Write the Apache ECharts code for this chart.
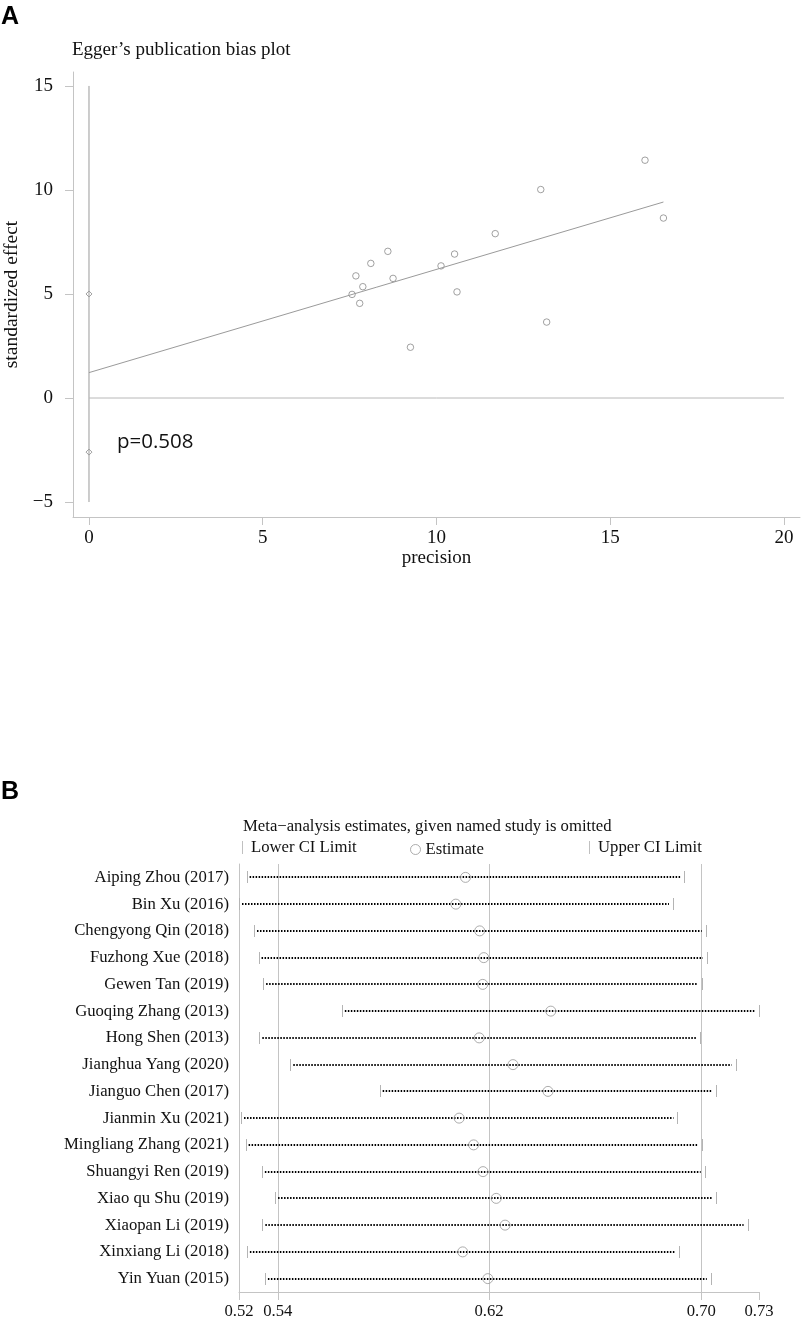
<!DOCTYPE html>
<html>
<head>
<meta charset="utf-8">
<script src="https://cdn.jsdelivr.net/npm/echarts@6/dist/echarts.min.js"></script>
<style>
  html, body { margin: 0; padding: 0; background: #fff; }
  #main { width: 803px; height: 1317px; }
</style>
</head>
<body>
<div id="main"></div>
<script>
// ---------- panel A : Egger's plot ----------
var precision = [16.0, 13.0, 16.53, 11.69, 8.60, 10.52, 8.11, 10.13, 7.68, 8.75, 7.88, 7.57, 10.59, 7.79, 13.17, 9.25];
var stdEffect = [11.43, 10.02, 8.65, 7.90, 7.05, 6.92, 6.47, 6.35, 5.87, 5.75, 5.35, 4.98, 5.10, 4.55, 3.65, 2.44];
var fitX = [0, 16.53];
var fitY = [1.22, 9.42];
var interceptCI = [5.0, -2.6];
var eggerXTicks = [0, 5, 10, 15, 20];
var eggerYTicks = [-5, 0, 5, 10, 15];
var pText = 'p=0.508';

// ---------- panel B : leave-one-out ----------
var studies = ['Aiping Zhou (2017)', 'Bin Xu (2016)', 'Chengyong Qin (2018)', 'Fuzhong Xue (2018)',
    'Gewen Tan (2019)', 'Guoqing Zhang (2013)', 'Hong Shen (2013)', 'Jianghua Yang (2020)',
    'Jianguo Chen (2017)', 'Jianmin Xu (2021)', 'Mingliang Zhang (2021)', 'Shuangyi Ren (2019)',
    'Xiao qu Shu (2019)', 'Xiaopan Li (2019)', 'Xinxiang Li (2018)', 'Yin Yuan (2015)'];
var lowerCI = [0.5248, 0.5218, 0.5277, 0.5295, 0.5313, 0.5623, 0.5298, 0.5420,
    0.5772, 0.5226, 0.5244, 0.5308, 0.5360, 0.5310, 0.5249, 0.5320];
var estimate = [0.6110, 0.6072, 0.6166, 0.6182, 0.6178, 0.6446, 0.6164, 0.6297,
    0.6435, 0.6085, 0.6142, 0.6179, 0.6231, 0.6266, 0.6099, 0.6198];
var upperCI = [0.6971, 0.6927, 0.7056, 0.7061, 0.7042, 0.7266, 0.7035, 0.7174,
    0.7098, 0.6945, 0.7040, 0.7052, 0.7098, 0.7221, 0.6949, 0.7076];
var overallCI = [0.5371, 0.6203, 0.7039];   // lower, estimate, upper of full model
var looTicks = [0.5218, 0.5371, 0.6203, 0.7039, 0.7266];
var looTickLabels = ['0.52', '0.54', '0.62', '0.70', '0.73'];

var serif = "'Liberation Serif', 'Times New Roman', serif";
var sansBold = "'Liberation Sans', Arial, sans-serif";
var axisGray = '#c4c4c4';
var lineGray = '#9a9a9a';

var chart = echarts.init(document.getElementById('main'), null, { renderer: 'canvas' });

function pairs(xs, ys) {
    return xs.map(function (x, i) { return [x, ys[i]]; });
}

// small grey bar at a CI end
function endTick(field) {
    return function (params, api) {
        var p = api.coord([api.value(field), api.value(2)]);
        var y = Math.round(p[1]);
        return {
            type: 'line',
            shape: { x1: Math.round(p[0]) + 0.5, y1: y - 6, x2: Math.round(p[0]) + 0.5, y2: y + 6 },
            style: { stroke: '#b4b4b4', lineWidth: 1 }
        };
    };
}

var ciData = studies.map(function (s, i) { return [lowerCI[i], upperCI[i], i]; });

var option = {
    animation: false,
    backgroundColor: '#fff',
    title: [
        { text: 'A', left: 1, top: 5, padding: 0, textStyle: { fontFamily: sansBold, fontWeight: 'bold', fontSize: 25, color: '#000' } },
        { text: 'Egger\u2019s publication bias plot', left: 72, top: 41, padding: 0, textStyle: { fontFamily: serif, fontWeight: 'normal', fontSize: 19, color: '#111' } },
        { text: pText, left: 117, top: 432, padding: 0, textStyle: { fontFamily: "'Open Sans', sans-serif", fontWeight: 'normal', fontSize: 20.5, color: '#111' } },
        { text: 'B', left: 1, top: 780, padding: 0, textStyle: { fontFamily: sansBold, fontWeight: 'bold', fontSize: 25, color: '#000' } },
        { text: 'Meta\u2212analysis estimates, given named study is omitted', left: 243, top: 818, padding: 0, textStyle: { fontFamily: serif, fontWeight: 'normal', fontSize: 16.7, color: '#111' } }
    ],
    legend: [
        {
            left: 242, top: 839, padding: 0, itemWidth: 1, itemHeight: 13,
            data: [{ name: 'Lower CI Limit', icon: 'rect', itemStyle: { color: '#c0c0c0' } }],
            textStyle: { fontFamily: serif, fontSize: 16.7, color: '#111', padding: [0, 0, 0, 3] }
        },
        {
            left: 410, top: 841, padding: 0, itemWidth: 10, itemHeight: 10,
            data: [{ name: 'Estimate', icon: 'circle', itemStyle: { color: 'transparent', borderColor: '#999', borderWidth: 1 } }],
            textStyle: { fontFamily: serif, fontSize: 16.7, color: '#111', padding: [0, 0, 0, 0] }
        },
        {
            left: 589, top: 839, padding: 0, itemWidth: 1, itemHeight: 13,
            data: [{ name: 'Upper CI Limit', icon: 'rect', itemStyle: { color: '#c0c0c0' } }],
            textStyle: { fontFamily: serif, fontSize: 16.7, color: '#111', padding: [0, 0, 0, 3] }
        }
    ],
    grid: [
        { left: 73, right: 3, top: 72, bottom: 800, outerBoundsMode: 'none' },
        { left: 239, right: 44, top: 864, bottom: 25, outerBoundsMode: 'none' }
    ],
    xAxis: [
        {
            gridIndex: 0, type: 'value', min: -0.46, max: 20.46,
            name: 'precision', nameLocation: 'middle', nameGap: 31,
            nameTextStyle: { fontFamily: serif, fontSize: 19, color: '#111' },
            axisLine: { show: true, onZero: false, lineStyle: { color: axisGray, width: 1 } },
            axisTick: { show: true, length: 8, customValues: eggerXTicks, lineStyle: { color: axisGray } },
            axisLabel: { customValues: eggerXTicks, margin: 12, fontFamily: serif, fontSize: 19, color: '#111' },
            splitLine: { show: false }
        },
        {
            gridIndex: 1, type: 'value', min: looTicks[0], max: looTicks[looTicks.length - 1],
            axisLine: { show: true, onZero: false, lineStyle: { color: axisGray, width: 1 } },
            axisTick: { show: true, length: 8, customValues: looTicks, lineStyle: { color: axisGray } },
            axisLabel: {
                customValues: looTicks, margin: 11, fontFamily: serif, fontSize: 16.7, color: '#111',
                formatter: function (v) {
                    var best = 0;
                    looTicks.forEach(function (t, i) {
                        if (Math.abs(t - v) < Math.abs(looTicks[best] - v)) best = i;
                    });
                    return looTickLabels[best];
                }
            },
            splitLine: { show: false }
        }
    ],
    yAxis: [
        {
            gridIndex: 0, type: 'value', min: -5.72, max: 15.67,
            name: 'standardized effect', nameLocation: 'middle', nameGap: 51, nameRotate: 90,
            nameTextStyle: { fontFamily: serif, fontSize: 19.5, color: '#111' },
            axisLine: { show: true, onZero: false, lineStyle: { color: axisGray, width: 1 } },
            axisTick: { show: true, length: 8, customValues: eggerYTicks, lineStyle: { color: axisGray } },
            axisLabel: {
                customValues: eggerYTicks, margin: 20, fontFamily: serif, fontSize: 19, color: '#111',
                formatter: function (v) { return v < 0 ? '\u2212' + Math.abs(v) : String(v); }
            },
            splitLine: { show: false }
        },
        {
            gridIndex: 1, type: 'category', data: studies, inverse: true,
            axisLine: { show: true, lineStyle: { color: axisGray, width: 1 } },
            axisTick: { show: false },
            axisLabel: { margin: 10, fontFamily: serif, fontSize: 16.7, color: '#111' },
            splitLine: { show: false }
        }
    ],
    series: [
        // panel A
        {
            type: 'line', xAxisIndex: 0, yAxisIndex: 0, symbol: 'none', silent: true,
            data: [[0, eggerYTicks[0]], [0, eggerYTicks[eggerYTicks.length - 1]]],
            lineStyle: { color: lineGray, width: 1 }
        },
        {
            type: 'line', xAxisIndex: 0, yAxisIndex: 0, symbol: 'none', silent: true,
            data: [[0, 0], [eggerXTicks[eggerXTicks.length - 1], 0]],
            lineStyle: { color: '#b8b8b8', width: 1 }
        },
        {
            type: 'line', xAxisIndex: 0, yAxisIndex: 0, symbol: 'none', silent: true,
            data: pairs(fitX, fitY),
            lineStyle: { color: lineGray, width: 1 }
        },
        {
            type: 'scatter', xAxisIndex: 0, yAxisIndex: 0, symbol: 'circle', symbolSize: 6.5,
            data: pairs(precision, stdEffect),
            itemStyle: { color: 'transparent', borderColor: '#8a8a8a', borderWidth: 1 }
        },
        {
            type: 'scatter', xAxisIndex: 0, yAxisIndex: 0, symbol: 'diamond', symbolSize: 6,
            data: interceptCI.map(function (v) { return [0, v]; }),
            itemStyle: { color: '#fff', borderColor: '#8a8a8a', borderWidth: 1 }
        },
        // panel B: reference lines of the full model
        {
            type: 'custom', xAxisIndex: 1, yAxisIndex: 1, silent: true,
            data: overallCI.map(function (v) { return [v, 0]; }), encode: { x: 0, y: 1 },
            renderItem: function (params, api) {
                var x = Math.round(api.coord([api.value(0), 0])[0]) + 0.5;
                var cs = params.coordSys;
                return {
                    type: 'line',
                    shape: { x1: x, y1: cs.y, x2: x, y2: cs.y + cs.height },
                    style: { stroke: '#c4c4c4', lineWidth: 1 }
                };
            },
            z: 1
        },
        {
            type: 'custom', xAxisIndex: 1, yAxisIndex: 1, silent: true,
            data: ciData, encode: { x: [0, 1], y: 2 },
            renderItem: function (params, api) {
                var a = api.coord([api.value(0), api.value(2)]);
                var b = api.coord([api.value(1), api.value(2)]);
                var y = Math.round(a[1]);
                return {
                    type: 'line',
                    shape: { x1: a[0] + 3, y1: y, x2: b[0] - 4, y2: y },
                    style: { stroke: '#000', lineWidth: 2, lineDash: [1.5, 1.5] }
                };
            },
            z: 3
        },
        {
            name: 'Lower CI Limit', type: 'custom', xAxisIndex: 1, yAxisIndex: 1, silent: true,
            data: ciData, encode: { x: 0, y: 2 }, itemStyle: { color: '#c0c0c0' },
            renderItem: endTick(0), z: 3
        },
        {
            name: 'Upper CI Limit', type: 'custom', xAxisIndex: 1, yAxisIndex: 1, silent: true,
            data: ciData, encode: { x: 1, y: 2 }, itemStyle: { color: '#c0c0c0' },
            renderItem: endTick(1), z: 3
        },
        {
            name: 'Estimate', type: 'scatter', xAxisIndex: 1, yAxisIndex: 1, symbol: 'circle', symbolSize: 10,
            data: estimate.map(function (v, i) { return [v, i]; }),
            itemStyle: { color: 'transparent', borderColor: '#999', borderWidth: 1 },
            z: 4
        }
    ]
};

chart.setOption(option);
</script>
</body>
</html>
